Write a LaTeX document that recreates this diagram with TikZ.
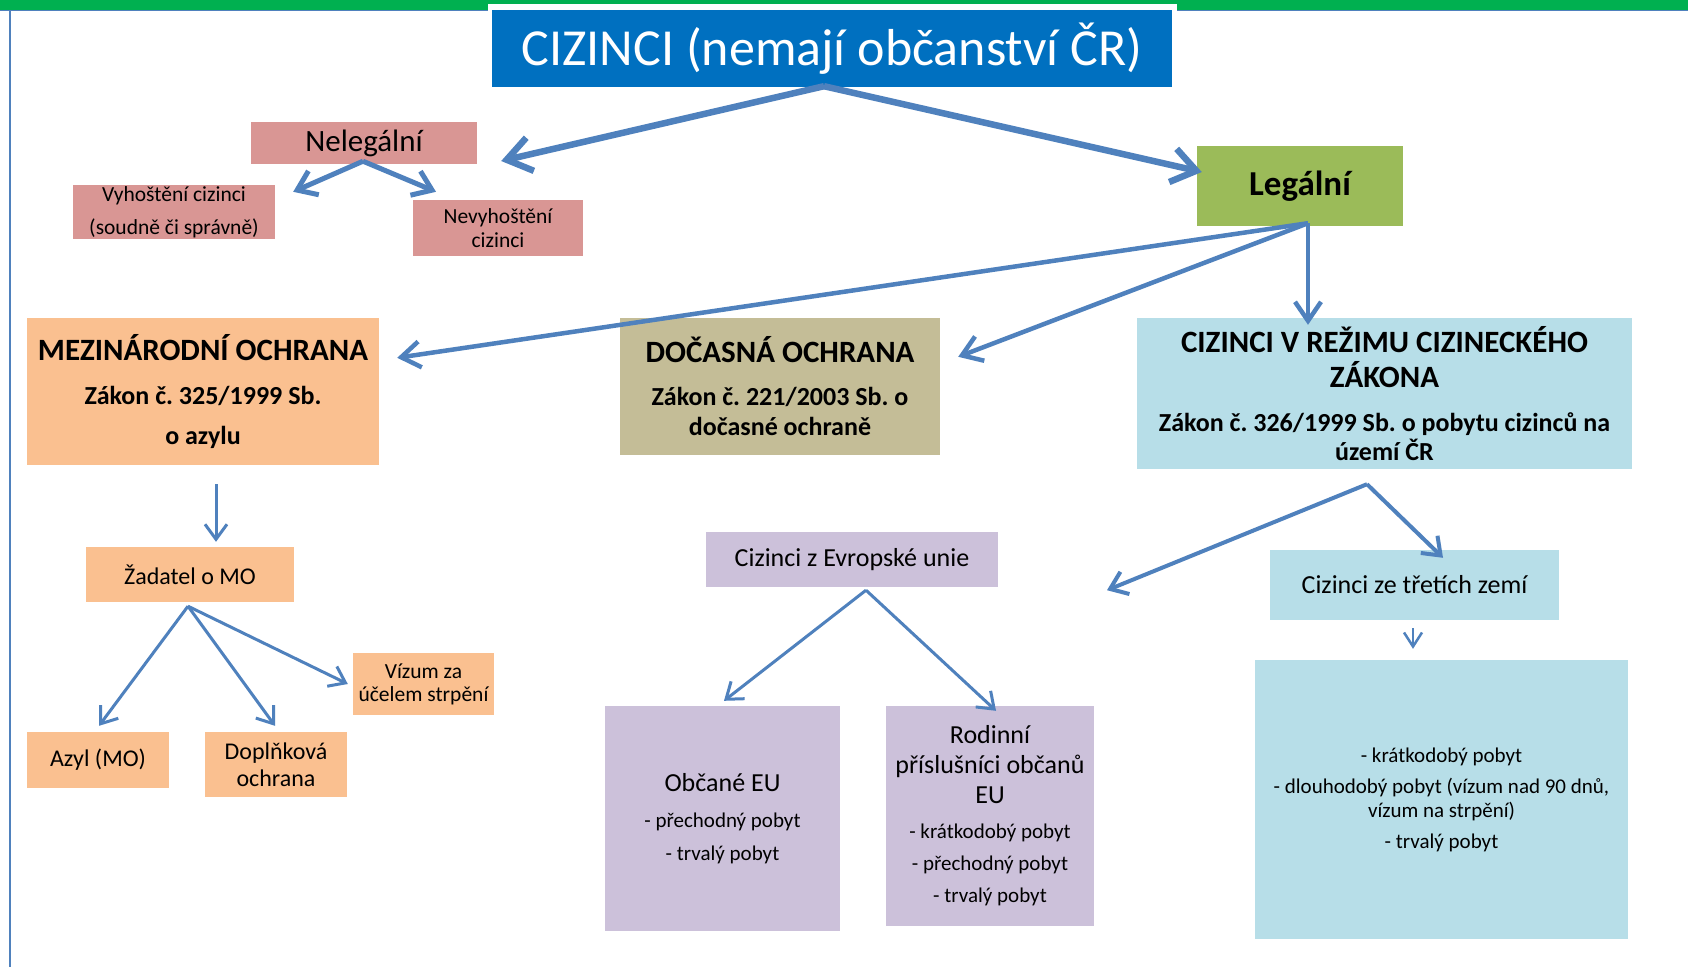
\documentclass[tikz,border=0pt]{standalone}
\usepackage{fontspec}
\setmainfont{Carlito}
\usetikzlibrary{arrows.meta,calc}
\definecolor{titleblue}{HTML}{0070C0}
\definecolor{topgreen}{HTML}{00B050}
\definecolor{arrowblue}{HTML}{4F81BD}
\definecolor{pinkbox}{HTML}{D99694}
\definecolor{greenbox}{HTML}{9BBB59}
\definecolor{orangebox}{HTML}{FAC090}
\definecolor{tanbox}{HTML}{C4BD97}
\definecolor{bluebox}{HTML}{B7DEE8}
\definecolor{lilacbox}{HTML}{CCC1DA}
\newcommand{\fs}[2]{\fontsize{#1}{#2}\selectfont}
\frenchspacing
\tikzset{
  box/.style={rectangle, inner sep=0pt, align=center, text=black},
  conn/.style={draw=arrowblue},
  arrA/.style={conn, line width=6.5pt, -{Straight Barb[length=24pt,width=34pt]}},
  arrB/.style={conn, line width=5pt, -{Straight Barb[length=18pt,width=26pt]}},
  arrC/.style={conn, line width=4.5pt, -{Straight Barb[length=19pt,width=26pt]}},
  arrD/.style={conn, line width=4pt, -{Straight Barb[length=16pt,width=24pt]}},
  arrE/.style={conn, line width=3pt, -{Straight Barb[length=15pt,width=22pt]}},
  arrF/.style={conn, line width=2.5pt, -{Straight Barb[length=14pt,width=18pt]}},
}
\begin{document}
\frenchspacing
\begin{tikzpicture}[x=1pt,y=-1pt]
\useasboundingbox (0,0) rectangle (1688,967);
\fill[white] (0,0) rectangle (1688,967);
\fill[topgreen] (0,0) rectangle (1688,10);
\draw[arrowblue, line width=1.5pt] (0,10.5) -- (1688,10.5);
\draw[arrowblue, line width=2pt] (9.5,10) -- (9.5,967);
\fill[white] (488,4) rectangle (1177,90);

% nodes
\node[box, fill=titleblue, text=white, minimum width=680pt, minimum height=77pt, font=\fs{52}{60}] (title) at (832,48.5) {CIZINCI (nemají občanství ČR)};
\node[box, fill=pinkbox, minimum width=226pt, minimum height=42pt, font=\fs{31}{36}] (nel) at (364,143) {Nelegální};
\node[box, fill=pinkbox, minimum width=202pt, minimum height=54pt, font=\fs{21.5}{33}] (vyh) at (174,212) {Vyhoštění cizinci\\(soudně či správně)};
\node[box, fill=pinkbox, minimum width=170pt, minimum height=56pt, font=\fs{21.5}{24}] (nev) at (498,228) {Nevyhoštění\\cizinci};
\node[box, fill=greenbox, minimum width=206pt, minimum height=80pt, font=\fs{35}{40}\bfseries] (leg) at (1300,186) {Legální};

\node[box, fill=orangebox, minimum width=352pt, minimum height=147pt, font=\fs{26}{40}\bfseries] (mo) at (203,391.5)
  {{\fs{31}{40}MEZINÁRODNÍ OCHRANA}\\[4pt] Zákon č. 325/1999 Sb.\\ o azylu};
\node[box, fill=tanbox, minimum width=320pt, minimum height=137pt, font=\fs{26}{30}\bfseries] (doc) at (780,386.5)
  {{\fs{31}{36}DOČASNÁ OCHRANA}\\[13pt] Zákon č. 221/2003 Sb. o\\ dočasné ochraně};
\node[box, fill=bluebox, minimum width=495pt, minimum height=151pt, font=\fs{26}{29}\bfseries] (cvr) at (1384.5,393.5)
  {{\fs{31}{36}CIZINCI V REŽIMU CIZINECKÉHO}\\[6pt] {\fs{31}{36}ZÁKONA}\\[15pt] Zákon č. 326/1999 Sb. o pobytu cizinců na\\ území ČR};

\node[box, fill=orangebox, minimum width=208pt, minimum height=55pt, font=\fs{24}{28}] (zad) at (190,574.5) {Žadatel o MO};
\node[box, fill=orangebox, minimum width=141pt, minimum height=62pt, font=\fs{21.5}{23}] (viz) at (423.5,684) {Vízum za\\účelem strpění};
\node[box, fill=orangebox, minimum width=142pt, minimum height=56pt, font=\fs{24}{28}] (azyl) at (98,760) {Azyl (MO)};
\node[box, fill=orangebox, minimum width=142pt, minimum height=65pt, font=\fs{24}{27}] (dop) at (276,764.5) {Doplňková\\ochrana};

\node[box, fill=lilacbox, minimum width=292pt, minimum height=55pt, font=\fs{26}{30}] (ceu) at (852,559.5) {Cizinci z Evropské unie};
\node[box, fill=lilacbox, minimum width=235pt, minimum height=225pt, font=\fs{21}{33}] (obc) at (722.5,818.5)
  {{\fs{26}{30}Občané EU}\\[3pt] - přechodný pobyt\\ - trvalý pobyt};
\node[box, fill=lilacbox, minimum width=208pt, minimum height=220pt, font=\fs{21}{30}] (rod) at (990,816)
  {{\fs{26}{30}Rodinní}\\ {\fs{26}{30}příslušníci občanů}\\ {\fs{26}{30}EU}\\[5pt] - krátkodobý pobyt\\[2pt] - přechodný pobyt\\[2pt] - trvalý pobyt};

\node[box, fill=bluebox, minimum width=289pt, minimum height=70pt, font=\fs{26}{30}] (ct) at (1414.5,585) {Cizinci ze třetích zemí};
\node[box, fill=bluebox, minimum width=373pt, minimum height=279pt, font=\fs{21}{24}] (big) at (1441.5,799.5)
  {- krátkodobý pobyt\\[7pt] - dlouhodobý pobyt (vízum nad 90 dnů,\\ vízum na strpění)\\[7pt] - trvalý pobyt};

% connectors
\coordinate (freeTip) at ($(cvr.south)+(-277.5,121)$);
\draw[arrA] ($(title.south)+(-8,-1)$) -- ($(nel.east)+(24,18)$);
\draw[arrA] ($(title.south)+(-8,-1)$) -- ($(leg.west)+(5,-14)$);
\draw[arrB] ($(nel.south)+(-1,-3)$) -- ($(vyh.north east)+(18,7)$);
\draw[arrB] ($(nel.south)+(-1,-3)$) -- ($(nev.north)+(-62,-8)$);
\draw[arrC] ($(leg.south)+(8,-3)$) -- ($(mo.north east)+(18,40)$);
\draw[arrC] ($(leg.south)+(8,-3)$) -- ($(doc.north east)+(18,39)$);
\draw[arrC] ($(leg.south)+(8,-3)$) -- ($(cvr.north)+(-76.5,7)$);
\draw[arrD] ($(cvr.south)+(-17.5,15)$) -- (freeTip);
\draw[arrD] ($(cvr.south)+(-17.5,15)$) -- ($(ct.north)+(28.5,8)$);
\draw[arrE] ($(mo.south)+(13,19)$) -- ($(zad.north)+(26,-5)$);
\draw[arrE] ($(zad.south)+(-2,4)$) -- ($(azyl.north)+(1,-6)$);
\draw[arrE] ($(zad.south)+(-2,4)$) -- ($(dop.north)+(-1,-6)$);
\draw[arrE] ($(zad.south)+(-2,4)$) -- ($(viz.west)+(-5,0)$);
\draw[arrE] ($(ceu.south)+(14,3)$) -- ($(obc.north)+(1.5,-5)$);
\draw[arrE] ($(ceu.south)+(14,3)$) -- ($(rod.north)+(6,5)$);
\draw[arrF] ($(ct.south)+(-1.5,8)$) -- ($(big.north)+(-28.5,-11)$);
\end{tikzpicture}
\end{document}
